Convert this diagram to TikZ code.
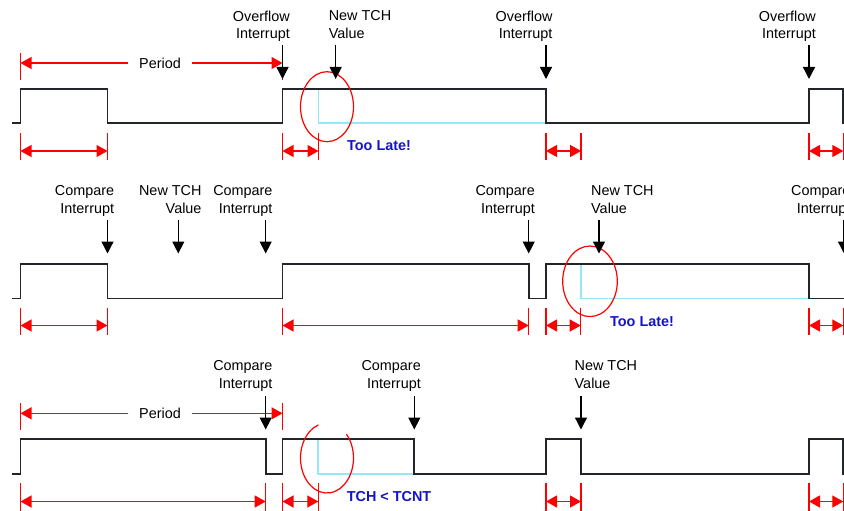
\documentclass[tikz,border=0pt]{standalone}
\usepackage{fontspec}
\setmainfont{Liberation Sans}
\usetikzlibrary{arrows.meta,calc}
\definecolor{wavec}{RGB}{34,38,42}
\definecolor{latec}{RGB}{150,232,245}
\definecolor{notec}{RGB}{20,20,200}
\begin{document}
\begin{tikzpicture}[x=1pt,y=-1pt,
  wave/.style={draw=wavec, line width=1.7pt, line join=miter},
  late/.style={draw=latec, line width=1.7pt},
  rtick/.style={draw=red, line width=1.3pt},
  dim/.style={draw=red, line width=1.3pt, {Triangle[length=11pt,width=12pt]}-{Triangle[length=11pt,width=12pt]}},
  per/.style={draw=red, line width=1.3pt, -{Triangle[length=11pt,width=12pt]}},
  evt/.style={draw=black, line width=1.3pt, -{Triangle[length=12pt,width=12pt]}},
  lblr/.style={font=\fontsize{14.4}{17.6}\selectfont, align=right, inner sep=0pt, anchor=north east},
  lbll/.style={font=\fontsize{14.4}{17.6}\selectfont, align=left, inner sep=0pt, anchor=north west},
  note/.style={font=\fontsize{14.4}{17.6}\selectfont\bfseries, text=notec, inner sep=0pt, anchor=base west},
  pertext/.style={font=\fontsize{14.4}{17.6}\selectfont, inner xsep=11pt, inner ysep=0pt},
  ring/.style={draw=red, line width=1.2pt}]
\useasboundingbox (0,0) rectangle (844,511);
\clip (0,0) rectangle (844,511);

% ---------------- Row 1 ----------------
\draw[late] (318.5,88.7) -- (318.5,123.3) -- (546,123.3);
\draw[wave] (12,123.3) -- (20.5,123.3) -- (20.5,88.7) -- (107.5,88.7) -- (107.5,123.3)
  -- (282.5,123.3) -- (282.5,88.7) -- (546,88.7) -- (546,123.3) -- (809,123.3)
  -- (809,88.7) -- (843.3,88.7) -- (843.3,123.3) -- (848,123.3);
\draw[ring] (327,106.7) ellipse [x radius=26.5pt, y radius=35pt];

% period
\coordinate (p1a) at (20.5,63);
\coordinate (p1b) at (282.5,63);
\foreach \n in {a,b} \draw[rtick] ($(p1\n)+(0,-10)$) -- ($(p1\n)+(0,17)$);
\node[pertext] (per1) at (160,63) {Period};
\draw[per] (per1.west) -- (p1a);
\draw[per] (per1.east) -- (p1b);

% lower dims
\foreach \n/\x in {a/20.5,b/107.5,c/282.5,d/318.5,e/546,f/581,g/809,h/843.3}
  \coordinate (d1\n) at (\x,151);
\foreach \n in {a,b,c,d,e,f,g,h} \draw[rtick] ($(d1\n)+(0,-18)$) -- ($(d1\n)+(0,9)$);
\draw[dim] (d1a) -- (d1b);
\draw[dim] (d1c) -- (d1d);
\draw[dim] (d1e) -- (d1f);
\draw[dim] (d1g) -- (d1h);

% events
\foreach \n/\x in {a/282.5,b/335.7,c/546,d/809}{
  \coordinate (e1\n-t) at (\x,45);
  \coordinate (e1\n-h) at (\x,79);
  \draw[evt] (e1\n-t) -- (e1\n-h);}

\node[lblr] (l1a) at (290,10.7) {Overflow\\Interrupt};
\node[lbll] (l1b) at (328.6,10.7) {New TCH\\Value};
\node[lblr] (l1c) at (552.7,10.7) {Overflow\\Interrupt};
\node[lblr] (l1d) at (816,10.7) {Overflow\\Interrupt};
\node[note] (n1) at (347,150) {Too Late!};

% ---------------- Row 2 ----------------
\draw[late] (580.7,264) -- (580.7,298.5) -- (809,298.5);
\draw[wave] (12,298.5) -- (20.5,298.5) -- (20.5,264) -- (107.5,264) -- (107.5,298.5)
  -- (282.5,298.5) -- (282.5,264) -- (528.7,264) -- (528.7,298.5) -- (546,298.5)
  -- (546,264) -- (809,264) -- (809,298.5) -- (848,298.5);
\draw[ring] (590,281.3) ellipse [x radius=27.3pt, y radius=35.3pt];

\foreach \n/\x in {a/20.5,b/107.5,c/282.5,d/528.7,e/546,f/580.7,g/809,h/843.3}
  \coordinate (d2\n) at (\x,325.5);
\foreach \n in {a,b,c,d,e,f,g,h} \draw[rtick] ($(d2\n)+(0,-18)$) -- ($(d2\n)+(0,9.5)$);
\draw[dim] (d2a) -- (d2b);
\draw[dim] (d2c) -- (d2d);
\draw[dim] (d2e) -- (d2f);
\draw[dim] (d2g) -- (d2h);

\foreach \n/\x in {a/107.5,b/178.3,c/265.7,d/528.7,e/599,f/844}{
  \coordinate (e2\n-t) at (\x,219.5);
  \coordinate (e2\n-h) at (\x,253.5);
  \draw[evt] (e2\n-t) -- (e2\n-h);}

\node[lblr] (l2a) at (114.3,185.7) {Compare\\Interrupt};
\node[lblr] (l2b) at (201.7,185.7) {New TCH\\Value};
\node[lblr] (l2c) at (272.7,185.7) {Compare\\Interrupt};
\node[lblr] (l2d) at (535,185.7) {Compare\\Interrupt};
\node[lbll] (l2e) at (591,185.7) {New TCH\\Value};
\node[lblr] (l2f) at (850.6,185.7) {Compare\\Interrupt};
\node[note] (n2) at (610,326.3) {Too Late!};

% ---------------- Row 3 ----------------
\draw[late] (318.3,439) -- (318.3,473.8) -- (414.3,473.8);
\draw[wave] (12,473.8) -- (20.5,473.8) -- (20.5,439) -- (265.7,439) -- (265.7,473.8)
  -- (282.5,473.8) -- (282.5,439) -- (414.3,439) -- (414.3,473.8) -- (546,473.8)
  -- (546,439) -- (581,439) -- (581,473.8) -- (809,473.8) -- (809,439)
  -- (843.3,439) -- (843.3,473.8) -- (848,473.8);
\draw[ring] (327,458) ++(109:26.5pt and 35pt)
  arc [start angle=109, end angle=403, x radius=26.5pt, y radius=35pt];

\coordinate (p3a) at (20.5,413.3);
\coordinate (p3b) at (282.5,413.3);
\foreach \n in {a,b} \draw[rtick] ($(p3\n)+(0,-10)$) -- ($(p3\n)+(0,17)$);
\node[pertext] (per3) at (160,413.3) {Period};
\draw[per] (per3.west) -- (p3a);
\draw[per] (per3.east) -- (p3b);

\foreach \n/\x in {a/20.5,b/265.7,c/282.5,d/318.3,e/546,f/581,g/809,h/843.3}
  \coordinate (d3\n) at (\x,501.5);
\foreach \n in {a,b,c,d,e,f,g,h} \draw[rtick] ($(d3\n)+(0,-18.5)$) -- ($(d3\n)+(0,9)$);
\draw[dim] (d3a) -- (d3b);
\draw[dim] (d3c) -- (d3d);
\draw[dim] (d3e) -- (d3f);
\draw[dim] (d3g) -- (d3h);

\foreach \n/\x in {a/265.7,b/414.3,c/581}{
  \coordinate (e3\n-t) at (\x,396);
  \coordinate (e3\n-h) at (\x,429.5);
  \draw[evt] (e3\n-t) -- (e3\n-h);}

\node[lblr] (l3a) at (272.7,360.5) {Compare\\Interrupt};
\node[lblr] (l3b) at (421,360.5) {Compare\\Interrupt};
\node[lbll] (l3c) at (574.5,360.5) {New TCH\\Value};
\node[note] (n3) at (346.7,501.5) {TCH < TCNT};
\end{tikzpicture}
\end{document}
